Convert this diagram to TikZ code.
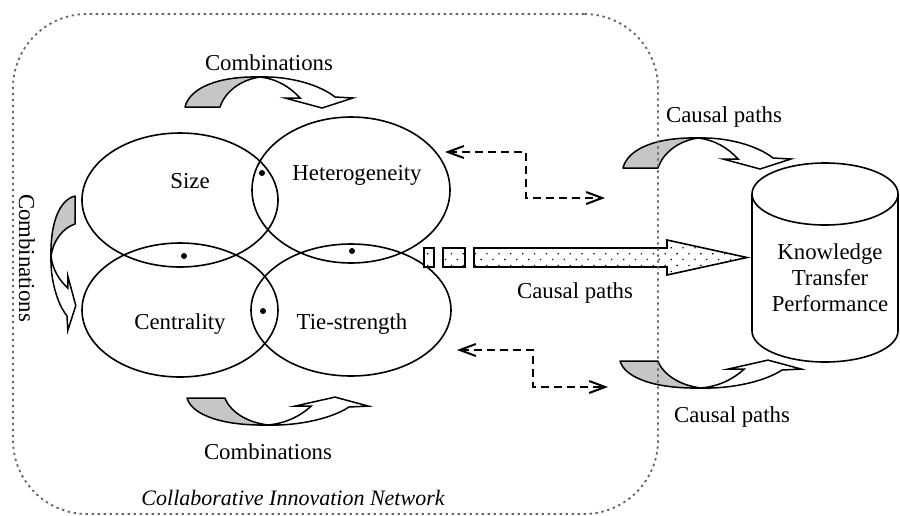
\documentclass[tikz,border=0pt]{standalone}
\usepackage{fontspec}
\setmainfont{Liberation Serif}
\usetikzlibrary{shapes.geometric, arrows.meta, patterns.meta}

% Curved ribbon arrow: shaded tail, white head; drawn in local pixel units
\newcommand\archarrow{%
  \filldraw[tailpart] (0,0) .. controls (5,-20) and (35,-31) .. (75,-30)
     .. controls (55,-27) and (40,-15) .. (35,0) -- cycle;
  \filldraw[headpart] (75,-30) .. controls (105,-31) and (135,-22) .. (150,-10)
     -- (168,-9) -- (137,1) -- (100,-9) -- (115,-9)
     .. controls (105,-20) and (92,-28) .. (75,-30) -- cycle;
}

\begin{document}
\begin{tikzpicture}[x=0.5pt, y=-0.5pt,
  txt/.style={font=\fontsize{11.4}{13}\selectfont, inner sep=0pt},
  venn/.style={ellipse, draw, line width=0.8pt, inner sep=0pt, outer sep=0pt},
  tailpart/.style={fill=gray!45, draw, line width=0.75pt, line join=round},
  headpart/.style={fill=white, draw, line width=0.75pt, line join=miter},
  dasharrow/.style={draw, line width=1pt, dash pattern=on 4pt off 2.5pt,
    {Straight Barb[length=8pt,width=6pt]}-{Straight Barb[length=8pt,width=6pt]}},
  netbox/.style={draw=black!60, line width=0.9pt, dash pattern=on 1.2pt off 1.8pt,
    rounded corners=37pt, inner sep=0pt},
  dotfill/.style={draw, line width=0.8pt, fill=white,
    postaction={pattern={Dots[radius=0.45pt, distance=4.2pt, angle=45]}}},
  joint/.style={circle, fill=black, inner sep=0pt, minimum size=3pt},
]
\useasboundingbox (0,0) rectangle (900,515);

% the four network dimensions
\node[venn, minimum width=98pt, minimum height=67pt] (size) at (180,200) {};
\node[venn, minimum width=99pt, minimum height=73pt] (het) at (351,190) {};
\node[venn, minimum width=98pt, minimum height=67pt] (cent) at (180,310) {};
\node[venn, minimum width=100pt, minimum height=66pt] (tie) at (351,310) {};

\node[txt, anchor=base] (sizeL) at (190,188) {Size};
\node[txt, anchor=base] (hetL) at (357,180) {Heterogeneity};
\node[txt, anchor=base] (centL) at (180,329) {Centrality};
\node[txt, anchor=base] (tieL) at (352,329) {Tie-strength};

% overlap markers
\node[joint] (j1) at (262,173) {};
\node[joint] (j2) at (184,256) {};
\node[joint] (j3) at (352,251) {};
\node[joint] (j4) at (263,311) {};

% combination arrows
\begin{scope}[shift={(185,107)}] \archarrow \end{scope}
\begin{scope}[shift={(187,398)}, xscale=1.08, yscale=-0.9] \archarrow \end{scope}
\begin{scope}[cm={0,-0.8,-0.8,0,(75,196)}] \archarrow \end{scope}

\node[txt, anchor=base] (combT) at (269,70) {Combinations};
\node[txt, anchor=base] (combB) at (268,459) {Combinations};
\node[txt, rotate=-90] (combL) at (27,258) {Combinations};

% knowledge transfer performance (cylinder)
\filldraw[fill=white, draw, line width=0.8pt] (752,194) -- (752,331)
  arc[start angle=180, end angle=0, x radius=73, y radius=31] -- (898,194);
\draw[line width=0.8pt] (825,194) ellipse [x radius=73, y radius=31];
\node[txt, align=center, font=\fontsize{11.4}{13}\selectfont] (ktp) at (830,278)
  {Knowledge\\Transfer\\Performance};

% causal arrows towards the cylinder
\begin{scope}[shift={(623,168)}] \archarrow \end{scope}
\begin{scope}[shift={(620,361)}, xscale=1.08, yscale=-0.9] \archarrow \end{scope}

\node[txt, anchor=base] (causT) at (724,122) {Causal paths};
\node[txt, anchor=base] (causM) at (575,298) {Causal paths};
\node[txt, anchor=base] (causB) at (732,422) {Causal paths};

% broad dotted arrow
\path[dotfill] (424,248) rectangle (434,267);
\path[dotfill] (443,248) rectangle (465,267);
\path[dotfill] (474,248) -- (667,248) -- (667,240) -- (747,257.5)
  -- (667,275) -- (667,267) -- (474,267) -- cycle;

% dashed feedback links
\coordinate (fa1) at (445,152);
\coordinate (fa2) at (605,198);
\coordinate (fb1) at (457,350);
\coordinate (fb2) at (608,387);
\draw[dasharrow] (fa1) -- ++(81,0) |- (fa2);
\draw[dasharrow] (fb1) -- ++(76,0) |- (fb2);

% network boundary
\node[netbox, minimum width=322.5pt, minimum height=250pt] (net) at (335.5,264) {};
\node[txt, anchor=base, font=\fontsize{11}{13}\selectfont\itshape] (netL) at (293,505)
  {Collaborative Innovation Network};
\end{tikzpicture}
\end{document}
